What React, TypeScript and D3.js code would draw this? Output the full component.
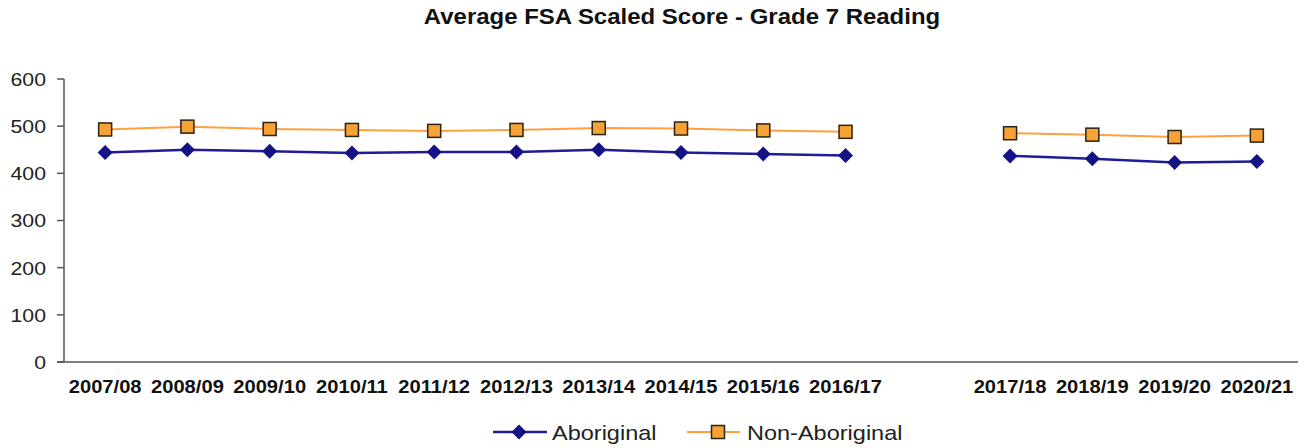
import React from "react";
import * as d3 from "d3";

const title = "Average FSA Scaled Score - Grade 7 Reading";
const categories = [
  "2007/08", "2008/09", "2009/10", "2010/11", "2011/12", "2012/13", "2013/14",
  "2014/15", "2015/16", "2016/17", "", "2017/18", "2018/19", "2019/20", "2020/21",
];
const aboriginal: (number | null)[] = [444, 450, 447, 443, 445, 445, 450, 444, 441, 438, null, 437, 431, 423, 425];
const nonAboriginal: (number | null)[] = [493, 499, 494, 492, 490, 492, 496, 495, 491, 488, null, 485, 482, 477, 480];
const yTicks = [0, 100, 200, 300, 400, 500, 600];
const seriesNames = ["Aboriginal", "Non-Aboriginal"];

const W = 1311;
const H = 448;
const FONT = "'Liberation Sans', Arial, sans-serif";
const NAVY = "#1E1C96";
const NAVY_MARK = "#141286";
const ORANGE = "#FFA040";
const ORANGE_FILL = "#F7A235";
const AXIS = "#555";

function T(props: {
  x: number;
  y: number;
  size: number;
  anchor?: string;
  bold?: boolean;
  fill?: string;
  stretch?: number;
  children: React.ReactNode;
}) {
  return (
    <text
      transform={`translate(${props.x},${props.y}) scale(${props.stretch ?? 1.12},1)`}
      dy="0.36em"
      textAnchor={props.anchor || "start"}
      fontSize={props.size}
      fontWeight={props.bold ? "bold" : "normal"}
      fill={props.fill || "#222"}
    >
      {props.children}
    </text>
  );
}

export default function App() {
  const x = d3.scaleBand<string>().domain(categories).range([64, 1298]).padding(0);
  const y = d3.scaleLinear().domain([0, 600]).range([362, 79]);
  const cx = (i: number) => (x(categories[i]) as number) + x.bandwidth() / 2;

  const line = d3
    .line<number | null>()
    .defined((d) => d !== null)
    .x((_, i) => cx(i))
    .y((d) => y(d as number));

  const diamond = (px: number, py: number, r: number) =>
    `M${px},${py - r}L${px + r},${py}L${px},${py + r}L${px - r},${py}Z`;

  return (
    <svg width={W} height={H} style={{ position: "absolute", left: 0, top: 0, background: "#fff" }} fontFamily={FONT}>
      <T x={682} y={16.5} size={22} anchor="middle" bold fill="#111" stretch={1.09}>
        {title}
      </T>

      {/* y axis */}
      <line x1={64} x2={64} y1={y(600)} y2={y(0)} stroke={AXIS} strokeWidth={1.5} />
      {yTicks.map((t) => (
        <g key={t}>
          <line x1={57} x2={64} y1={y(t)} y2={y(t)} stroke={AXIS} strokeWidth={1.5} />
          <T x={46} y={y(t)} size={19} anchor="end">
            {t}
          </T>
        </g>
      ))}
      {/* x axis */}
      <line x1={57} x2={1298} y1={y(0)} y2={y(0)} stroke={AXIS} strokeWidth={1.5} />
      {categories.map((c, i) =>
        c ? (
          <T key={c} x={cx(i)} y={387} size={18} anchor="middle" bold fill="#111">
            {c}
          </T>
        ) : null
      )}

      {/* lines */}
      <path d={line(nonAboriginal) || ""} fill="none" stroke={ORANGE} strokeWidth={2} />
      <path d={line(aboriginal) || ""} fill="none" stroke={NAVY} strokeWidth={2.5} />
      {nonAboriginal.map((v, i) =>
        v === null ? null : (
          <rect key={"n" + i} x={cx(i) - 6.5} y={y(v) - 6.5} width={13} height={13} fill={ORANGE_FILL} stroke="#2b2314" strokeWidth={1.5} />
        )
      )}
      {aboriginal.map((v, i) =>
        v === null ? null : <path key={"a" + i} d={diamond(cx(i), y(v), 7.5)} fill={NAVY_MARK} />
      )}

      {/* legend */}
      <line x1={493} x2={547} y1={432} y2={432} stroke={NAVY} strokeWidth={2.5} />
      <path d={diamond(519, 432, 7.5)} fill={NAVY_MARK} />
      <T x={552} y={432} size={21}>
        {seriesNames[0]}
      </T>
      <line x1={687} x2={740} y1={432} y2={432} stroke={ORANGE} strokeWidth={2} />
      <rect x={711.5} y={425.5} width={13} height={13} fill={ORANGE_FILL} stroke="#2b2314" strokeWidth={1.5} />
      <T x={747} y={432} size={21}>
        {seriesNames[1]}
      </T>
    </svg>
  );
}
